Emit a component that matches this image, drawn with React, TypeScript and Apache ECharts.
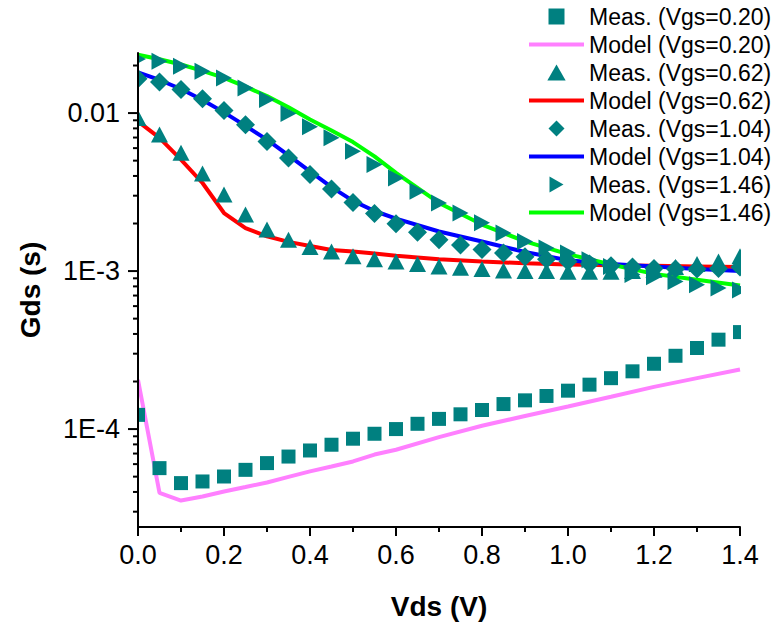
import React, { useEffect, useRef } from "react";
import * as echarts from "echarts";

// ---- data ----
const xMeas = [0, 0.05, 0.1, 0.15, 0.2, 0.25, 0.3, 0.35, 0.4, 0.45, 0.5, 0.55, 0.6, 0.65, 0.7, 0.75, 0.8, 0.85, 0.9, 0.95, 1.0, 1.05, 1.1, 1.15, 1.2, 1.25, 1.3, 1.35, 1.4];

const measVgs020 = [1.23e-4, 5.66e-5, 4.55e-5, 4.66e-5, 5.01e-5, 5.52e-5, 6.09e-5, 6.7e-5, 7.32e-5, 7.96e-5, 8.69e-5, 9.34e-5, 1.0e-4, 1.08e-4, 1.16e-4, 1.24e-4, 1.32e-4, 1.44e-4, 1.52e-4, 1.62e-4, 1.75e-4, 1.91e-4, 2.1e-4, 2.32e-4, 2.59e-4, 2.91e-4, 3.26e-4, 3.68e-4, 4.11e-4];
const measVgs062 = [9.3e-3, 7.31e-3, 5.6e-3, 4.14e-3, 3.05e-3, 2.28e-3, 1.83e-3, 1.58e-3, 1.42e-3, 1.33e-3, 1.24e-3, 1.19e-3, 1.15e-3, 1.11e-3, 1.07e-3, 1.05e-3, 1.03e-3, 1.01e-3, 1.0e-3, 1.0e-3, 9.9e-4, 9.9e-4, 9.9e-4, 1.0e-3, 1.02e-3, 1.06e-3, 1.11e-3, 1.15e-3, 1.24e-3];
const measVgs104 = [1.65e-2, 1.57e-2, 1.41e-2, 1.23e-2, 1.04e-2, 8.45e-3, 6.62e-3, 5.2e-3, 4.08e-3, 3.31e-3, 2.72e-3, 2.31e-3, 1.99e-3, 1.76e-3, 1.58e-3, 1.46e-3, 1.37e-3, 1.3e-3, 1.23e-3, 1.19e-3, 1.15e-3, 1.11e-3, 1.08e-3, 1.06e-3, 1.04e-3, 1.03e-3, 1.03e-3, 1.04e-3, 1.06e-3];
const measVgs146 = [2.2e-2, 2.13e-2, 1.98e-2, 1.84e-2, 1.67e-2, 1.44e-2, 1.22e-2, 9.93e-3, 8.18e-3, 6.97e-3, 5.73e-3, 4.72e-3, 3.88e-3, 3.2e-3, 2.7e-3, 2.33e-3, 2.02e-3, 1.74e-3, 1.54e-3, 1.4e-3, 1.3e-3, 1.18e-3, 1.07e-3, 9.5e-4, 9.2e-4, 8.6e-4, 8.2e-4, 7.8e-4, 7.6e-4];

const xModel = [0, 0.05, 0.1, 0.15, 0.2, 0.25, 0.3, 0.35, 0.4, 0.45, 0.5, 0.55, 0.6, 0.7, 0.8, 0.9, 1.0, 1.1, 1.2, 1.3, 1.4];
const modelVgs020 = [2.05e-4, 3.94e-5, 3.53e-5, 3.74e-5, 4.03e-5, 4.3e-5, 4.59e-5, 4.98e-5, 5.4e-5, 5.8e-5, 6.24e-5, 6.9e-5, 7.4e-5, 8.9e-5, 1.05e-4, 1.21e-4, 1.39e-4, 1.6e-4, 1.85e-4, 2.1e-4, 2.38e-4];
const modelVgs062 = [8.87e-3, 6.97e-3, 5.08e-3, 3.61e-3, 2.33e-3, 1.87e-3, 1.66e-3, 1.53e-3, 1.44e-3, 1.36e-3, 1.33e-3, 1.29e-3, 1.25e-3, 1.19e-3, 1.15e-3, 1.12e-3, 1.1e-3, 1.09e-3, 1.08e-3, 1.07e-3, 1.06e-3];
const modelVgs104 = [1.81e-2, 1.62e-2, 1.42e-2, 1.21e-2, 1.01e-2, 8.3e-3, 6.79e-3, 5.4e-3, 4.28e-3, 3.4e-3, 2.78e-3, 2.4e-3, 2.15e-3, 1.78e-3, 1.54e-3, 1.32e-3, 1.17e-3, 1.11e-3, 1.07e-3, 1.03e-3, 1.0e-3];
const modelVgs146 = [2.34e-2, 2.19e-2, 2.03e-2, 1.85e-2, 1.67e-2, 1.47e-2, 1.28e-2, 1.09e-2, 9.1e-3, 7.75e-3, 6.55e-3, 5.32e-3, 4.18e-3, 2.7e-3, 1.97e-3, 1.54e-3, 1.28e-3, 1.1e-3, 9.6e-4, 8.8e-4, 8.1e-4];

const seriesNames = [
  "Meas. (Vgs=0.20)",
  "Model (Vgs=0.20)",
  "Meas. (Vgs=0.62)",
  "Model (Vgs=0.62)",
  "Meas. (Vgs=1.04)",
  "Model (Vgs=1.04)",
  "Meas. (Vgs=1.46)",
  "Model (Vgs=1.46)",
];

const yDecadeValues = [1e-4, 1e-3, 1e-2];
const yDecadeLabels = ["1E-4", "1E-3", "0.01"];
const yMinorTickValues = [
  3e-5, 4e-5, 5e-5, 6e-5, 7e-5, 8e-5, 9e-5,
  2e-4, 3e-4, 4e-4, 5e-4, 6e-4, 7e-4, 8e-4, 9e-4,
  2e-3, 3e-3, 4e-3, 5e-3, 6e-3, 7e-3, 8e-3, 9e-3,
  2e-2,
];

const X_MIN = 0;
const X_MAX = 1.4;
const Y_MIN = 2.4e-5;
const Y_MAX = 0.024;

// layout
const W = 780;
const H = 622;
const GRID = { left: 138, right: 40, top: 53, bottom: 95 };

const FONT = "'Liberation Sans', Arial, sans-serif";
const TEAL = "#008080";

// marker shapes
const SQUARE = "path://M0,0H10V10H0Z";
const UP_TRIANGLE = "path://M8,0L16,14L0,14Z";
const DIAMOND = "path://M8,0L16,8L8,16L0,8Z";
const RIGHT_TRIANGLE = "path://M0,0L14,8L0,16Z";
const measSymbols = [SQUARE, UP_TRIANGLE, DIAMOND, RIGHT_TRIANGLE];

const zip = (xs: number[], ys: number[]) => xs.map((x, i) => [x, ys[i]]);

function tickSeries(values: number[], len: number) {
  return {
    type: "custom",
    silent: true,
    clip: false,
    z: 6,
    data: values.map((v) => [X_MIN, v]),
    renderItem: (_params: any, api: any) => {
      const p = api.coord([api.value(0), api.value(1)]);
      return {
        type: "line",
        shape: { x1: p[0] - len, y1: p[1], x2: p[0], y2: p[1] },
        style: { stroke: "#000", lineWidth: 2 },
      };
    },
  };
}

function scatter(name: string, ys: number[], symbol: string, size: any) {
  return {
    name,
    type: "scatter",
    data: zip(xMeas, ys),
    symbol,
    symbolSize: size,
    z: 2,
    itemStyle: { color: TEAL, opacity: 1 },
  };
}

function modelLine(name: string, ys: number[], color: string) {
  return {
    name,
    type: "line",
    data: zip(xModel, ys),
    symbol: "none",
    showSymbol: false,
    z: 2,
    lineStyle: { color, width: 4 },
    itemStyle: { color },
  };
}

export default function App() {
  const ref = useRef<HTMLDivElement>(null);
  useEffect(() => {
    if (!ref.current) return;
    const chart = echarts.init(ref.current, undefined, { renderer: "svg" });
    const plotRight = W - GRID.right;
    const plotBottom = H - GRID.bottom;
    const option: any = {
      animation: false,
      backgroundColor: "#ffffff",
      textStyle: { fontFamily: FONT },
      grid: { ...GRID, outerBoundsMode: "none" },
      legend: {
        orient: "vertical",
        left: 527,
        top: 5,
        padding: 0,
        itemWidth: 55,
        itemHeight: 16,
        itemGap: 5,
        symbolKeepAspect: true,
        z: 10,
        data: seriesNames.map((n, i) =>
          i % 2 === 1
            ? { name: n, itemStyle: { opacity: 0 }, lineStyle: { width: 4 } }
            : { name: n, icon: measSymbols[i / 2] }
        ),
        textStyle: { fontSize: 23, color: "#000", fontFamily: FONT, lineHeight: 23 },
      },
      graphic: [
        // masks that clip marker shapes at the plot edges (as in the original)
        {
          type: "rect",
          z: 4,
          silent: true,
          shape: { x: GRID.left - 18, y: GRID.top - 12, width: 17, height: plotBottom - GRID.top + 12 },
          style: { fill: "#fff" },
        },
        {
          type: "rect",
          z: 4,
          silent: true,
          shape: { x: plotRight + 1, y: 232, width: 20, height: plotBottom - 232 },
          style: { fill: "#fff" },
        },
      ],
      xAxis: {
        type: "value",
        min: X_MIN,
        max: X_MAX,
        interval: 0.2,
        z: 6,
        name: "Vds (V)",
        nameLocation: "middle",
        nameGap: 65,
        nameTextStyle: { fontSize: 28, fontWeight: "bold", color: "#000", fontFamily: FONT },
        axisLine: { show: true, lineStyle: { color: "#000", width: 2 } },
        axisTick: { show: true, inside: false, length: 9, lineStyle: { color: "#000", width: 2 } },
        minorTick: { show: true, splitNumber: 2, length: 5, lineStyle: { color: "#000", width: 2 } },
        splitLine: { show: false },
        minorSplitLine: { show: false },
        axisLabel: {
          fontSize: 27,
          color: "#000",
          margin: 14,
          fontFamily: FONT,
          formatter: (v: number) => v.toFixed(1),
        },
      },
      yAxis: {
        type: "log",
        logBase: 10,
        min: Y_MIN,
        max: Y_MAX,
        z: 6,
        name: "Gds (s)",
        nameLocation: "middle",
        nameGap: 94,
        nameRotate: 90,
        nameTextStyle: { fontSize: 28, fontWeight: "bold", color: "#000", fontFamily: FONT },
        axisLine: { show: true, lineStyle: { color: "#000", width: 2 } },
        axisTick: { show: false },
        splitLine: { show: false },
        axisLabel: {
          fontSize: 27,
          color: "#000",
          margin: 18,
          fontFamily: FONT,
          showMinLabel: false,
          showMaxLabel: false,
          formatter: (v: number) => {
            const e = Math.log10(v);
            for (let i = 0; i < yDecadeValues.length; i++) {
              if (Math.abs(Math.log10(yDecadeValues[i]) - e) < 1e-6) return yDecadeLabels[i];
            }
            return "";
          },
        },
      },
      series: [
        scatter(seriesNames[0], measVgs020, SQUARE, 14),
        modelLine(seriesNames[1], modelVgs020, "#ff80ff"),
        scatter(seriesNames[2], measVgs062, UP_TRIANGLE, [17, 16]),
        modelLine(seriesNames[3], modelVgs062, "#ff0000"),
        scatter(seriesNames[4], measVgs104, DIAMOND, [19, 19]),
        modelLine(seriesNames[5], modelVgs104, "#0000ff"),
        scatter(seriesNames[6], measVgs146, RIGHT_TRIANGLE, [16, 17]),
        modelLine(seriesNames[7], modelVgs146, "#00ff00"),
        tickSeries(yDecadeValues, 10),
        tickSeries(yMinorTickValues, 5),
      ],
    };
    chart.setOption(option);
    return () => chart.dispose();
  }, []);
  return (
    <div
      ref={ref}
      style={{ position: "fixed", left: 0, top: 0, width: W, height: H, background: "#fff" }}
    />
  );
}
